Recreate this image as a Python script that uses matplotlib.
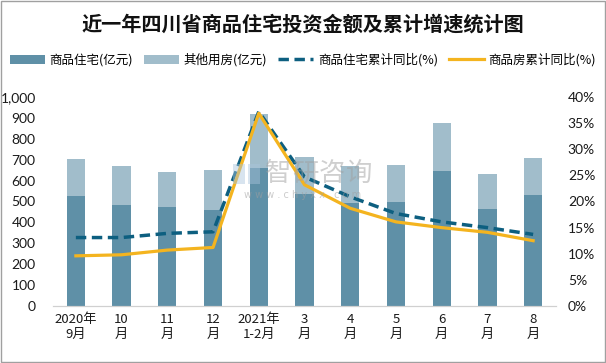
import matplotlib.pyplot as plt
import numpy as np
from matplotlib.ticker import FuncFormatter, MultipleLocator

plt.rcParams['font.family'] = ['Noto Sans CJK SC', 'DejaVu Sans']

months = ['2020年\n9月', '10\n月', '11\n月', '12\n月', '2021年\n1-2月', '3\n月',
          '4\n月', '5\n月', '6\n月', '7\n月', '8\n月']
residential = [527, 484, 474, 460, 660, 535, 492, 497, 646, 464, 531]
other = [176, 186, 167, 191, 260, 178, 178, 178, 230, 168, 177]
resid_yoy = [13.1, 13.1, 13.9, 14.2, 37.2, 24.7, 20.9, 17.7, 16.1, 15.0, 13.7]
house_yoy = [9.6, 9.8, 10.7, 11.2, 36.9, 23.2, 18.7, 16.1, 15.0, 14.1, 12.5]

c_res = '#5f90a7'
c_oth = '#a1bdcb'
c_dash = '#0d5f80'
c_yel = '#f4b41f'

fig = plt.figure(figsize=(6.06, 3.63), dpi=100)
ax = fig.add_axes([53 / 606, 1 - 306 / 363, 503 / 606, 209 / 363])
x = np.arange(len(months))

b1 = ax.bar(x, residential, width=0.4, color=c_res, label='商品住宅(亿元)')
b2 = ax.bar(x, other, width=0.4, bottom=residential, color=c_oth, label='其他用房(亿元)')
ax.set_ylim(0, 1000)
ax.set_xlim(-0.5, len(months) - 0.5)
ax.yaxis.set_major_locator(MultipleLocator(100))
ax.yaxis.set_major_formatter(FuncFormatter(lambda v, p: f'{int(v):,}'))
ax.set_xticks(x)
ax.set_xticklabels(months, linespacing=1.15, fontsize=9.5)

ax2 = ax.twinx()
l1, = ax2.plot(x, resid_yoy, color=c_dash, lw=2.5, ls=(0, (3, 1.6)), label='商品住宅累计同比(%)')
l2, = ax2.plot(x, house_yoy, color=c_yel, lw=2.3, label='商品房累计同比(%)')
ax2.set_ylim(0, 40)
ax2.yaxis.set_major_locator(MultipleLocator(5))
ax2.yaxis.set_major_formatter(FuncFormatter(lambda v, p: f'{int(v)}%'))

for a in (ax, ax2):
    for s in ('top', 'left', 'right'):
        a.spines[s].set_visible(False)
    a.spines['bottom'].set_color('#d0d0d0')
    a.tick_params(length=0, colors='#1a1a1a')
for lab in ax.get_yticklabels() + ax2.get_yticklabels():
    lab.set_family(['Lato', 'DejaVu Sans'])
    lab.set_fontsize(10)
ax.tick_params(axis='y', pad=12.5)
ax2.tick_params(axis='y', pad=8.5)
ax.tick_params(axis='x', pad=5)

# watermark: logo blocks, name, url
for x0, w in [(233, 12), (248, 12)]:
    fig.patches.append(plt.Rectangle((x0 / 606, 1 - 184 / 363), w / 606, 20 / 363,
                                     transform=fig.transFigure, color='#a9c4dc',
                                     alpha=0.45, lw=0))
wm_name = '智研咨询'
for i, ch in enumerate(wm_name):
    fig.text((278 + i * 27) / 606, 1 - 174 / 363, ch, fontsize=19, color='#a0a0a0',
             alpha=0.5, ha='center', va='center')
fig.text(303 / 606, 1 - 195 / 363, 'w w w . c h y x x . c o m', fontsize=7,
         color='#a0a0a0', alpha=0.55, ha='center', va='center', family='DejaVu Sans')

fig.text(0.5, 1 - 24 / 363, '近一年四川省商品住宅投资金额及累计增速统计图',
         ha='center', va='center', fontsize=14.5, fontweight='bold', color='#111111')
fig.legend(handles=[b1, b2, l1, l2], loc='center', bbox_to_anchor=(0.5, 1 - 60 / 363),
           ncol=4, frameon=False, fontsize=9, handlelength=2.8, columnspacing=0.9,
           handletextpad=0.35)

fig.patches.append(plt.Rectangle((0.001, 0.002), 0.997, 0.996, transform=fig.transFigure,
                                 fill=False, edgecolor='#a0a0a0', lw=1))
fig.savefig('out.png', dpi=100)
